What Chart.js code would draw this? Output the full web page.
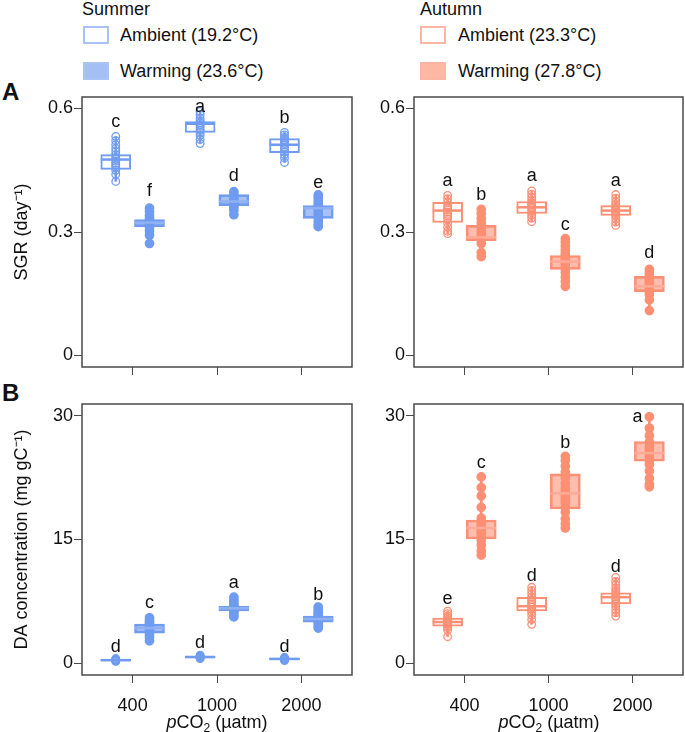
<!DOCTYPE html>
<html>
<head>
<meta charset="utf-8">
<script src="https://cdn.jsdelivr.net/npm/chart.js@4.4.1/dist/chart.umd.min.js"></script>
<style>
  body { margin: 0; background: #fff; font-family: 'Liberation Sans', Arial, sans-serif; color: #111; }
  #wrap { position: relative; width: 685px; height: 732px; overflow: hidden; }
  .abs { position: absolute; }
  canvas { position: absolute; }
  .season { font-size: 18px; line-height: 18px; }
  .leg { font-size: 18px; line-height: 20px; white-space: nowrap; }
  .sq { position: absolute; width: 26px; height: 18px; box-sizing: border-box; border: 2px solid; }
  .panel { font-size: 24px; font-weight: bold; line-height: 24px; }
  .xt { font-size: 18px; text-align: center; width: 200px; line-height: 20px; }
  .xt sub { font-size: 12px; vertical-align: -4px; line-height: 0; }
</style>
</head>
<body>
<div id="wrap">
  <div class="abs season" style="left:82px;top:0px">Summer</div>
  <div class="sq" style="left:83px;top:26px;border-color:#a9c3f4;background:#fff"></div>
  <div class="abs leg" style="left:120px;top:25px">Ambient (19.2°C)</div>
  <div class="sq" style="left:83px;top:62px;border-color:#a9c3f4;background:#a4bff4"></div>
  <div class="abs leg" style="left:120px;top:61px">Warming (23.6°C)</div>

  <div class="abs season" style="left:420px;top:0px">Autumn</div>
  <div class="sq" style="left:420px;top:26px;border-color:#fdb6a5;background:#fff"></div>
  <div class="abs leg" style="left:458px;top:25px">Ambient (23.3°C)</div>
  <div class="sq" style="left:420px;top:62px;border-color:#fdb6a5;background:#feb8a4"></div>
  <div class="abs leg" style="left:458px;top:61px">Warming (27.8°C)</div>

  <div class="abs panel" style="left:2px;top:80px">A</div>
  <div class="abs panel" style="left:2px;top:381px">B</div>

  <canvas id="sgrSummer" width="356" height="290" style="left:0px;top:90px"></canvas>
  <canvas id="sgrAutumn" width="327" height="290" style="left:358px;top:90px"></canvas>
  <canvas id="daSummer" width="356" height="316" style="left:0px;top:397px"></canvas>
  <canvas id="daAutumn" width="327" height="316" style="left:358px;top:397px"></canvas>

  <div class="abs xt" style="left:117px;top:712px"><i>p</i>CO<sub>2</sub> (µatm)</div>
  <div class="abs xt" style="left:449px;top:712px"><i>p</i>CO<sub>2</sub> (µatm)</div>
</div>

<script>
// categorias de pCO2
const pco2 = ['400', '1000', '2000'];
const sgrTicks = [0, 0.3, 0.6];
const daTicks = [0, 15, 30];

// SGR verano - puntos por grupo (400, 1000, 2000)
const sgrSumAmb = [
  [0.532, 0.522, 0.512, 0.503, 0.495, 0.488, 0.482, 0.477, 0.472, 0.467, 0.462, 0.457, 0.450, 0.440, 0.423],
  [0.593, 0.585, 0.576, 0.570, 0.565, 0.561, 0.557, 0.552, 0.547, 0.542, 0.535, 0.525, 0.515],
  [0.542, 0.536, 0.530, 0.525, 0.520, 0.515, 0.511, 0.506, 0.500, 0.494, 0.488, 0.480, 0.469]
];
const sgrSumAmbBox = [[0.452, 0.476, 0.488], [0.542, 0.563, 0.568], [0.493, 0.512, 0.527]];
const sgrSumWarm = [
  [0.358, 0.350, 0.341, 0.334, 0.329, 0.325, 0.322, 0.319, 0.316, 0.311, 0.303, 0.292, 0.272],
  [0.398, 0.392, 0.386, 0.381, 0.377, 0.374, 0.371, 0.368, 0.365, 0.360, 0.353, 0.342],
  [0.390, 0.384, 0.377, 0.370, 0.364, 0.359, 0.354, 0.349, 0.343, 0.336, 0.327, 0.319, 0.313]
];
const sgrSumWarmBox = [[0.313, 0.323, 0.330], [0.364, 0.374, 0.391], [0.333, 0.358, 0.364]];
const sgrSumAmbLetters = ['c', 'a', 'b'];
const sgrSumAmbLetterY = [0.566, 0.603, 0.576];
const sgrSumWarmLetters = ['f', 'd', 'e'];
const sgrSumWarmLetterY = [0.400, 0.435, 0.420];

// SGR otono
const sgrAutAmb = [
  [0.389, 0.381, 0.372, 0.364, 0.358, 0.353, 0.348, 0.343, 0.338, 0.332, 0.322, 0.312, 0.302, 0.296],
  [0.400, 0.392, 0.384, 0.377, 0.371, 0.366, 0.361, 0.357, 0.352, 0.347, 0.341, 0.334, 0.325],
  [0.391, 0.382, 0.373, 0.367, 0.362, 0.357, 0.353, 0.349, 0.345, 0.340, 0.333, 0.324, 0.316]
];
const sgrAutAmbBox = [[0.323, 0.352, 0.372], [0.345, 0.360, 0.374], [0.340, 0.352, 0.364]];
const sgrAutWarm = [
  [0.355, 0.345, 0.333, 0.322, 0.313, 0.305, 0.298, 0.292, 0.287, 0.281, 0.272, 0.250, 0.240],
  [0.284, 0.276, 0.266, 0.257, 0.249, 0.243, 0.237, 0.232, 0.227, 0.222, 0.216, 0.210, 0.201, 0.190, 0.180, 0.168],
  [0.209, 0.202, 0.196, 0.191, 0.186, 0.181, 0.176, 0.171, 0.166, 0.161, 0.155, 0.148, 0.135, 0.109]
];
const sgrAutWarmBox = [[0.279, 0.287, 0.316], [0.209, 0.228, 0.243], [0.155, 0.168, 0.192]];
const sgrAutAmbLetters = ['a', 'a', 'a'];
const sgrAutAmbLetterY = [0.423, 0.435, 0.423];
const sgrAutWarmLetters = ['b', 'c', 'd'];
const sgrAutWarmLetterY = [0.391, 0.316, 0.248];

// DA verano
const daSumAmb = [
  [0.55, 0.45, 0.40, 0.35, 0.30, 0.25, 0.20],
  [0.95, 0.85, 0.80, 0.75, 0.70, 0.65, 0.55],
  [0.70, 0.60, 0.55, 0.50, 0.45, 0.40, 0.30]
];
const daSumAmbBox = [[0.25, 0.35, 0.45], [0.62, 0.73, 0.85], [0.40, 0.50, 0.60]];
const daSumWarm = [
  [5.5, 5.2, 5.0, 4.8, 4.6, 4.4, 4.25, 4.1, 3.9, 3.7, 3.4, 3.1, 2.7],
  [8.0, 7.7, 7.4, 7.1, 6.95, 6.8, 6.7, 6.6, 6.5, 6.4, 6.2, 5.9, 5.6],
  [6.8, 6.5, 6.2, 6.0, 5.8, 5.6, 5.45, 5.3, 5.2, 5.0, 4.8, 4.5, 4.25]
];
const daSumWarmBox = [[3.64, 4.25, 4.74], [6.32, 6.65, 6.92], [4.97, 5.35, 5.70]];
const daSumAmbLetters = ['d', 'd', 'd'];
const daSumAmbLetterY = [1.95, 2.4, 1.95];
const daSumWarmLetters = ['c', 'a', 'b'];
const daSumWarmLetterY = [7.3, 9.7, 8.26];

// DA otono
const daAutAmb = [
  [6.3, 6.0, 5.7, 5.5, 5.3, 5.1, 5.0, 4.9, 4.7, 4.5, 4.3, 4.0, 3.2],
  [9.2, 8.8, 8.4, 8.0, 7.7, 7.4, 7.2, 7.0, 6.8, 6.5, 6.2, 5.8, 5.3, 4.7],
  [10.4, 9.9, 9.5, 9.1, 8.8, 8.5, 8.2, 8.0, 7.8, 7.5, 7.2, 6.9, 6.5, 6.1, 5.7]
];
const daAutAmbBox = [[4.49, 4.98, 5.47], [6.32, 6.9, 7.98], [7.17, 8.0, 8.54]];
const daAutWarm = [
  [22.6, 21.3, 20.3, 18.9, 17.6, 17.2, 16.9, 16.6, 16.3, 16.0, 15.7, 15.3, 14.9, 14.3, 13.6, 13.1],
  [25.1, 24.6, 23.9, 23.2, 22.5, 21.8, 21.2, 20.8, 20.4, 20.0, 19.5, 18.9, 18.3, 17.5, 16.9, 16.4],
  [29.9, 28.5, 27.6, 26.8, 26.3, 25.9, 25.6, 25.3, 25.0, 24.6, 24.1, 23.3, 22.4, 21.7, 21.4]
];
const daAutWarmBox = [[15.06, 16.4, 17.37], [18.7, 20.6, 22.96], [24.5, 25.5, 26.9]];
const daAutAmbLetters = ['e', 'd', 'd'];
const daAutAmbLetterY = [7.8, 10.6, 11.7];
const daAutWarmLetters = ['c', 'b', 'a'];
const daAutWarmLetterY = [24.3, 26.7, 29.9];

// colores
const azul = { line: '#6f9cf0', fill: 'rgba(122,160,238,0.65)', med: '#8fb1f3' };
const salmon = { line: '#fd8f74', fill: 'rgba(253,150,125,0.62)', med: '#fdab97' };

Chart.defaults.font.family = "'Liberation Sans', Arial, sans-serif";
Chart.defaults.color = '#111';

const FRAME = '#4a4a4a';

// marco alrededor del area de trazado + letras de significancia
const marcoPlugin = {
  id: 'marco',
  beforeDatasetsDraw(chart) {
    const { ctx, chartArea: a } = chart;
    ctx.save();
    ctx.strokeStyle = FRAME;
    ctx.lineWidth = 1.5;
    ctx.strokeRect(a.left, a.top, a.right - a.left, a.bottom - a.top);
    ctx.restore();
  },
  afterDatasetsDraw(chart) {
    const letras = chart.options.plugins.marco.letras || [];
    const { ctx, scales } = chart;
    ctx.save();
    ctx.fillStyle = '#111';
    ctx.font = "18px 'Liberation Sans', Arial, sans-serif";
    ctx.textAlign = 'center';
    ctx.textBaseline = 'middle';
    letras.forEach(l => {
      l.text.forEach((t, i) => {
        const dx = (l.dx && l.dx[i]) || 0;
        ctx.fillText(t, scales.x.getPixelForValue(i + l.off + dx), scales.y.getPixelForValue(l.y[i]));
      });
    });
    ctx.restore();
  }
};

function grupo(puntos, cajas, off, col, relleno) {
  const bigotes = puntos.map((p, i) => ({ x: i + off, y: [Math.min(...p), Math.max(...p)] }));
  const caja = cajas.map((b, i) => ({ x: i + off, y: [b[0], b[2]] }));
  const medianas = cajas.map((b, i) => ({ x: i + off, y: b[1] }));
  const pts = [];
  puntos.forEach((p, i) => p.forEach(v => pts.push({ x: i + off, y: v })));
  return [
    { type: 'bar', data: bigotes, backgroundColor: col.line, borderWidth: 0, barThickness: 2, grouped: false, order: 4 },
    { type: 'bar', data: caja, backgroundColor: relleno ? col.fill : '#ffffff', borderColor: col.line,
      borderWidth: 2, borderSkipped: false, barThickness: 30, grouped: false, order: 3 },
    { type: 'scatter', data: pts, pointRadius: relleno ? 4.2 : 3.8, pointBorderWidth: 1.3,
      pointBackgroundColor: relleno ? col.line : 'rgba(255,255,255,0)', pointBorderColor: col.line, order: 2 },
    { type: 'scatter', data: medianas, pointStyle: 'line', pointRadius: 15, pointBorderWidth: 2.5,
      pointBorderColor: relleno ? col.med : col.line, order: 1 }
  ];
}

function panel(id, cfg) {
  const ctx = document.getElementById(id).getContext('2d');
  return new Chart(ctx, {
    type: 'bar',
    data: {
      datasets: [
        ...grupo(cfg.amb, cfg.ambBox, -0.2, cfg.col, false),
        ...grupo(cfg.warm, cfg.warmBox, 0.2, cfg.col, true)
      ]
    },
    options: {
      responsive: false,
      animation: false,
      events: [],
      layout: { autoPadding: false, padding: { top: 7, right: cfg.padRight, left: 0, bottom: 0 } },
      plugins: {
        legend: { display: false },
        tooltip: { enabled: false },
        marco: {
          letras: [
            { text: cfg.ambLetters, y: cfg.ambLetterY, off: -0.2 },
            { text: cfg.warmLetters, y: cfg.warmLetterY, off: 0.2, dx: cfg.warmDx }
          ]
        }
      },
      scales: {
        x: {
          type: 'linear',
          offset: false,
          min: -0.6, max: 2.6,
          afterBuildTicks: s => {
            s.ticks = pco2.map((_, i) => ({ value: i }));
            s.min = -0.6; s.max = 2.6;
          },
          afterFit: s => { s.height = cfg.xHeight; s.paddingLeft = 0; s.paddingRight = 0; },
          ticks: {
            padding: 12,
            font: { size: 18 },
            color: '#111',
            callback: (v) => cfg.showX ? pco2[v] : ''
          },
          grid: { offset: false, drawOnChartArea: false, drawTicks: true, tickLength: 8, color: FRAME, lineWidth: 1 },
          border: { display: false }
        },
        y: {
          min: cfg.yMin, max: cfg.yMax,
          afterBuildTicks: s => {
            s.ticks = cfg.yTicks.map(v => ({ value: v }));
            s.min = cfg.yMin; s.max = cfg.yMax;
          },
          afterFit: s => { s.width = cfg.yWidth; s.paddingTop = 0; s.paddingBottom = 0; },
          ticks: { padding: 1, font: { size: 18 }, color: '#111', callback: v => String(v) },
          grid: { drawOnChartArea: false, drawTicks: true, tickLength: 8, color: FRAME, lineWidth: 1 },
          border: { display: false },
          title: {
            display: !!cfg.yTitle,
            text: cfg.yTitle || '',
            font: { size: 18 },
            color: '#111',
            padding: { top: 11, bottom: 0 }
          }
        }
      }
    },
    plugins: [marcoPlugin]
  });
}

panel('sgrSummer', {
  amb: sgrSumAmb, ambBox: sgrSumAmbBox, warm: sgrSumWarm, warmBox: sgrSumWarmBox, col: azul,
  ambLetters: sgrSumAmbLetters, ambLetterY: sgrSumAmbLetterY,
  warmLetters: sgrSumWarmLetters, warmLetterY: sgrSumWarmLetterY,
  yMin: -0.028, yMax: 0.628, yTicks: sgrTicks, yTitle: 'SGR (day⁻¹)',
  yWidth: 82, padRight: 4, xHeight: 13, showX: false
});
panel('sgrAutumn', {
  amb: sgrAutAmb, ambBox: sgrAutAmbBox, warm: sgrAutWarm, warmBox: sgrAutWarmBox, col: salmon,
  ambLetters: sgrAutAmbLetters, ambLetterY: sgrAutAmbLetterY,
  warmLetters: sgrAutWarmLetters, warmLetterY: sgrAutWarmLetterY,
  yMin: -0.028, yMax: 0.628, yTicks: sgrTicks,
  yWidth: 56, padRight: 2, xHeight: 13, showX: false
});
panel('daSummer', {
  amb: daSumAmb, ambBox: daSumAmbBox, warm: daSumWarm, warmBox: daSumWarmBox, col: azul,
  ambLetters: daSumAmbLetters, ambLetterY: daSumAmbLetterY,
  warmLetters: daSumWarmLetters, warmLetterY: daSumWarmLetterY,
  yMin: -1.45, yMax: 31.45, yTicks: daTicks, yTitle: 'DA concentration (mg gC⁻¹)',
  yWidth: 82, padRight: 4, xHeight: 38, showX: true
});
panel('daAutumn', {
  amb: daAutAmb, ambBox: daAutAmbBox, warm: daAutWarm, warmBox: daAutWarmBox, col: salmon,
  ambLetters: daAutAmbLetters, ambLetterY: daAutAmbLetterY,
  warmLetters: daAutWarmLetters, warmLetterY: daAutWarmLetterY, warmDx: [0, 0, -0.14],
  yMin: -1.45, yMax: 31.45, yTicks: daTicks,
  yWidth: 56, padRight: 2, xHeight: 38, showX: true
});
</script>
</body>
</html>
